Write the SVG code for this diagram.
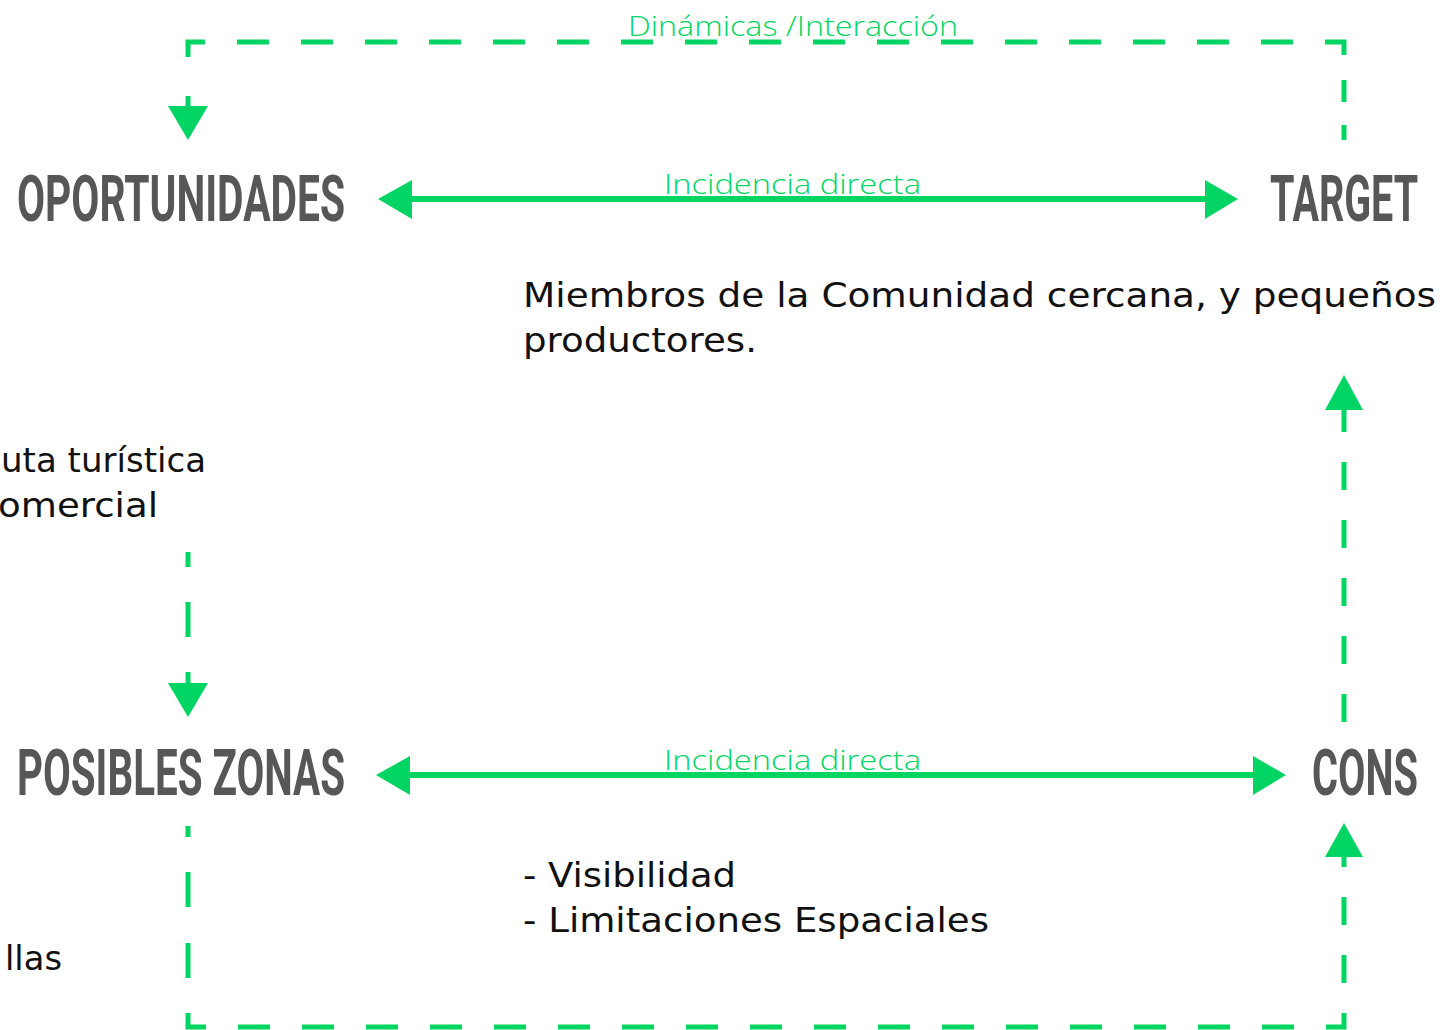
<svg xmlns="http://www.w3.org/2000/svg" width="1445" height="1030" viewBox="0 0 1445 1030">
<style>
.head{font-family:Roboto,"Liberation Sans",sans-serif;font-weight:700;font-size:64px;fill:#575757}
.body{font-family:"DejaVu Sans","Open Sans",sans-serif;font-size:33px;fill:#111}
.lbl{font-family:"Open Sans","Liberation Sans",sans-serif;font-weight:300;font-size:28px;fill:#00D563}
.dash{fill:none;stroke:#00D563;stroke-width:5}
.solid{fill:none;stroke:#00D563;stroke-width:6}
.head-arrow{fill:#00D563}
</style>
<rect width="1445" height="1030" fill="#fff"/>
<g id="connectors">
  <path class="dash" d="M188 57 V42 H1344 V55" stroke-dasharray="32 32"/>
  <path class="dash" d="M1344 80 V102 M1344 125 V140"/>
  <path class="dash" d="M188 1013 V1027 H1344 V1013" stroke-dasharray="32 32"/>
  <path class="dash" d="M188 96 V108"/>
  <polygon class="head-arrow" points="168,106 208,106 188,140"/>
  <path class="dash" d="M188 552 V567 M188 602 V637 M188 672 V685"/>
  <polygon class="head-arrow" points="168,683 208,683 188,717"/>
  <path class="dash" d="M188 826 V837 M188 872 V907 M188 943 V978"/>
  <path class="dash" d="M1344 857 V867 M1344 897 V925 M1344 955 V983"/>
  <polygon class="head-arrow" points="1325,857 1363,857 1344,823"/>
  <path class="dash" d="M1344 408 V432 M1344 462 V490 M1344 520 V548 M1344 578 V606 M1344 636 V664 M1344 694 V722"/>
  <polygon class="head-arrow" points="1325,410 1363,410 1344,375"/>
  <line class="solid" x1="410" y1="199" x2="1207" y2="199"/>
  <polygon class="head-arrow" points="378,199 412,180 412,219"/>
  <polygon class="head-arrow" points="1238,199 1205,180 1205,219"/>
  <line class="solid" x1="408" y1="775" x2="1255" y2="775"/>
  <polygon class="head-arrow" points="376,775 410,756 410,795"/>
  <polygon class="head-arrow" points="1286,775 1253,756 1253,795"/>
  <text class="lbl" x="628" y="36" textLength="330" lengthAdjust="spacingAndGlyphs">Dinámicas /Interacción</text>
  <text class="lbl" x="664" y="194" textLength="257" lengthAdjust="spacingAndGlyphs">Incidencia directa</text>
  <text class="lbl" x="664" y="770" textLength="257" lengthAdjust="spacingAndGlyphs">Incidencia directa</text>
</g>
<g id="oportunidades">
  <text class="head" transform="translate(17 221) scale(0.62 1)" textLength="529" lengthAdjust="spacingAndGlyphs">OPORTUNIDADES</text>
</g>
<g id="target">
  <text class="head" transform="translate(1270 221) scale(0.62 1)" textLength="239" lengthAdjust="spacingAndGlyphs">TARGET</text>
</g>
<g id="posibles-zonas">
  <text class="head" transform="translate(17 795) scale(0.62 1)" textLength="529" lengthAdjust="spacingAndGlyphs">POSIBLES ZONAS</text>
</g>
<g id="cons">
  <text class="head" transform="translate(1312 795) scale(0.62 1)" textLength="171" lengthAdjust="spacingAndGlyphs">CONS</text>
</g>
<g id="target-text">
  <text class="body" x="523" y="307" textLength="913" lengthAdjust="spacingAndGlyphs">Miembros de la Comunidad cercana, y pequeños</text>
  <text class="body" x="523" y="352" textLength="234" lengthAdjust="spacingAndGlyphs">productores.</text>
</g>
<g id="cons-text">
  <text class="body" x="523" y="887" textLength="213" lengthAdjust="spacingAndGlyphs">- Visibilidad</text>
  <text class="body" x="523" y="932" textLength="466" lengthAdjust="spacingAndGlyphs">- Limitaciones Espaciales</text>
</g>
<g id="oportunidades-text">
  <text class="body" x="1" y="472" textLength="205" lengthAdjust="spacingAndGlyphs">uta turística</text>
  <text class="body" x="-2" y="517" textLength="160" lengthAdjust="spacingAndGlyphs">omercial</text>
</g>
<g id="zonas-text">
  <text class="body" x="5" y="970" textLength="57" lengthAdjust="spacingAndGlyphs">llas</text>
</g>
</svg>
